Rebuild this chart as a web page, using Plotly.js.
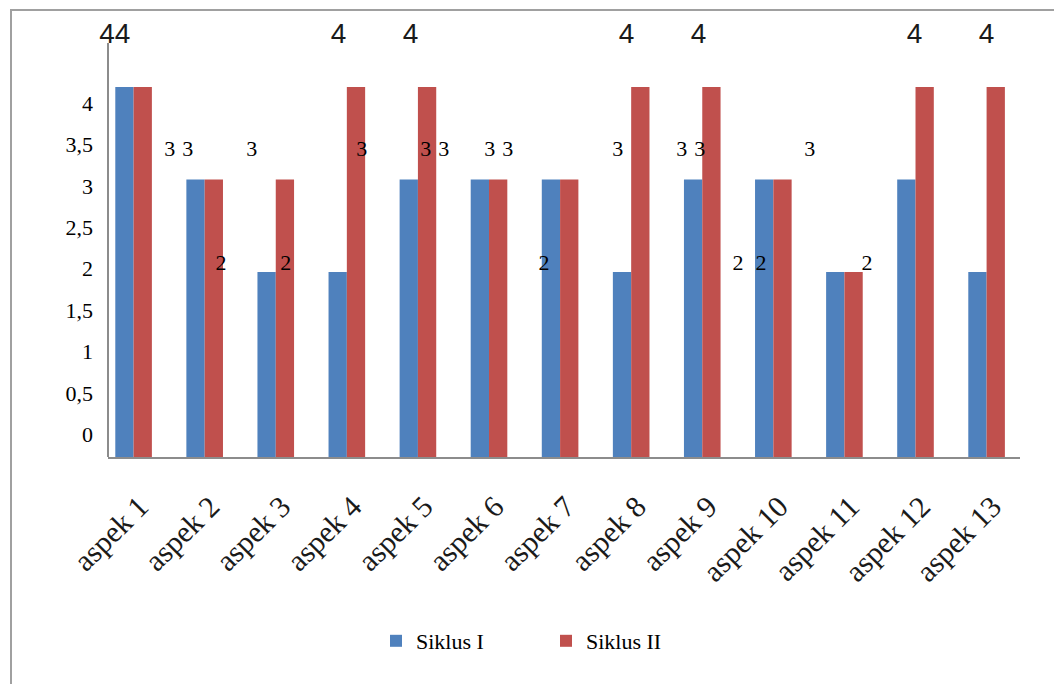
<!DOCTYPE html>
<html><head><meta charset="utf-8">
<script src="https://cdn.plot.ly/plotly-3.0.1.min.js"></script>
<style>html,body{margin:0;padding:0;background:#fff}</style>
</head><body><div id="chart" style="width:1054px;height:684px"></div>
<script>
const categories = ['aspek 1','aspek 2','aspek 3','aspek 4','aspek 5','aspek 6','aspek 7','aspek 8','aspek 9','aspek 10','aspek 11','aspek 12','aspek 13'];
const siklusI  = [4,3,2,2,3,3,3,2,3,3,2,3,2];
const siklusII = [4,3,3,4,4,3,3,4,4,3,2,4,4];
const seriesNames = ['Siklus I','Siklus II'];
const yTickValues = [0,0.5,1,1.5,2,2.5,3,3.5,4];
const labelLevels = [4,3,2];

const W=1054, H=684, L=108, R=34, T=15, B=227;
const plotW = W-L-R, plotH = H-T-B;
const BLUE='#4F81BD', RED='#C0504D';
const SERIF='"Liberation Serif", "Times New Roman", serif';

const seriesVals = [siklusI, siklusII];
const seriesColors = [BLUE, RED];

const traces = [];
seriesVals.forEach((vals, s) => {
  traces.push({
    type:'bar', name: seriesNames[s], x: categories, y: vals,
    xaxis:'x', yaxis:'y',
    marker:{color: seriesColors[s], line:{width:0}},
    hoverinfo:'skip'
  });
});
// carrier for the value-axis tick labels (draws nothing)
traces.push({type:'scatter', mode:'none', x:categories, y:siklusI, xaxis:'x', yaxis:'y2',
  showlegend:false, hoverinfo:'skip'});

// data labels (drawn on their own label scales, as in the source picture)
const levelAxis = {4:'x2', 3:'x3', 2:'x4'};
const levelScale = {4:{k:72.0,p0:114.8}, 3:{k:64.0,p0:114.8}, 2:{k:64.6,p0:103.4}};
const levelGap = {4:0, 3:4, 2:8};
const levelFont = {
  4:{family:'"Liberation Sans", Arial, sans-serif', size:28, color:'#1a1a1a'},
  3:{family:SERIF, size:22, color:'#000'},
  2:{family:SERIF, size:22, color:'#000'}
};
labelLevels.forEach(v => {
  seriesVals.forEach((vals, s) => {
    const xs=[], ys=[], tx=[];
    vals.forEach((val,i)=>{ if(val===v){ xs.push(i); ys.push(val); tx.push(String(val)); } });
    traces.push({
      type:'scatter', mode: levelGap[v] ? 'text+markers' : 'text', x: xs, y: ys, text: tx,
      xaxis: levelAxis[v], yaxis:'y3',
      marker:{size: levelGap[v] || 1, opacity:0},
      textposition: s===0 ? 'middle left' : 'middle right',
      textfont: levelFont[v], cliponaxis:false, showlegend:false, hoverinfo:'skip'
    });
  });
});

function levelRange(v){ const p=levelScale[v]; return [(L-p.p0)/p.k, (L+plotW-p.p0)/p.k]; }
const px2paperX = px => (px-L)/plotW;
const px2paperY = py => (H-B-py)/plotH;
const base = H-B;                          // pixel row of value 0 of the bars
const barRange = [0, (base-T)/92.5];
const tickZero = 434.3, tickUnit = 82.8;   // where the value-axis labels sit
const tickRange = [-(base-tickZero)/tickUnit, (tickZero-T)/tickUnit];
const lblUnit = 114.5, lblZero = 493.5;
const lblRange = [(lblZero-base)/lblUnit, (lblZero-T)/lblUnit];

const layout = {
  width:W, height:H,
  margin:{l:L, r:R, t:T, b:B, pad:0},
  paper_bgcolor:'#fff', plot_bgcolor:'rgba(0,0,0,0)',
  separators:',.',
  barmode:'group', bargap:0.485, bargroupgap:0,
  font:{family:SERIF, color:'#000'},
  xaxis:{type:'category', range:[-0.36,12.47], showline:true, linecolor:'#8c8c8c', linewidth:2,
    showgrid:false, zeroline:false, ticks:'', tickangle:-45, ticklabelstandoff:18, ticklabelshift:6,
    tickfont:{family:SERIF, size:30, color:'#1a1a1a'}},
  xaxis2:{overlaying:'x', visible:false, range:levelRange(4)},
  xaxis3:{overlaying:'x', visible:false, range:levelRange(3)},
  xaxis4:{overlaying:'x', visible:false, range:levelRange(2)},
  yaxis:{range:barRange, showline:false, showgrid:false, zeroline:false, showticklabels:false, ticks:''},
  yaxis2:{overlaying:'y', side:'left', range:tickRange, tickmode:'array', tickvals:yTickValues,
    showline:false, showgrid:false, zeroline:false, ticks:'', ticklabelstandoff:14,
    tickfont:{family:SERIF, size:22, color:'#000'}},
  yaxis3:{overlaying:'y', visible:false, range:lblRange},
  showlegend:true,
  legend:{orientation:'h', x:px2paperX(376), xanchor:'left', y:px2paperY(641), yanchor:'middle',
    entrywidth:125, entrywidthmode:'pixels', bgcolor:'rgba(0,0,0,0)',
    font:{family:SERIF, size:22, color:'#000'}},
  shapes:[
    {type:'rect', xref:'paper', yref:'paper', layer:'below',
     x0:px2paperX(11), x1:px2paperX(1070), y0:px2paperY(10), y1:px2paperY(700),
     line:{color:'#a0a0a0', width:2}, fillcolor:'rgba(0,0,0,0)'},
    {type:'line', xref:'paper', yref:'paper', x0:0, x1:0, y0:0, y1:px2paperY(43),
     line:{color:'#8c8c8c', width:2}}
  ]
};

Plotly.newPlot('chart', traces, layout, {displayModeBar:false, staticPlot:true});
</script>
</body></html>
